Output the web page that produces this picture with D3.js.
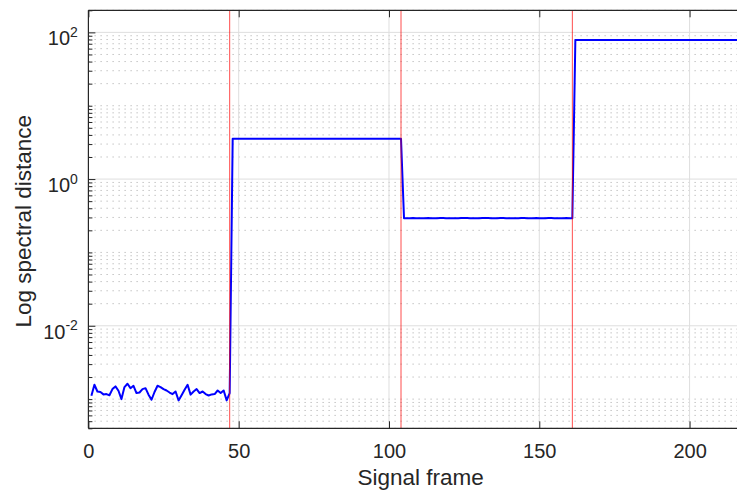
<!DOCTYPE html>
<html>
<head>
<meta charset="utf-8">
<script src="https://cdn.jsdelivr.net/npm/d3@7"></script>
<style>
    body { margin: 0; background: #fff; overflow: hidden; }
    #chart { width: 737px; height: 494px; }
    text { font-family: "Liberation Sans", Arial, sans-serif; fill: #262626; }
</style>
</head>
<body>
<div id="chart"></div>
<script>
// tick values / labels
const xTicks = [0, 50, 100, 150, 200];
const yTicks = [1e-2, 1, 1e2];
const yTickExponents = ['-2', '0', '2'];
const changeFrames = [47, 104, 161];

// log spectral distance per frame
// frames 1-47 (noise floor)
const quietSegment = [
    0.00111, 0.00157, 0.00127, 0.00125, 0.00116, 0.00117, 0.00113, 0.00137, 0.00149, 0.00130,
    0.00100, 0.00146, 0.00162, 0.00141, 0.00152, 0.00121, 0.00123, 0.00137, 0.00141, 0.00115,
    0.00098, 0.00125, 0.00152, 0.00146, 0.00137, 0.00131, 0.00123, 0.00117, 0.00127, 0.00096,
    0.00113, 0.00134, 0.00157, 0.00115, 0.00127, 0.00137, 0.00121, 0.00127, 0.00117, 0.00112,
    0.00116, 0.00117, 0.00131, 0.00121, 0.00131, 0.00096, 0.00121
];
// frames 48-104
const segmentA = [
    3.54, 3.55, 3.55, 3.55, 3.55, 3.55, 3.55, 3.55, 3.55, 3.55,
    3.55, 3.55, 3.55, 3.55, 3.55, 3.55, 3.55, 3.55, 3.55, 3.55,
    3.55, 3.55, 3.55, 3.55, 3.55, 3.56, 3.55, 3.55, 3.55, 3.55,
    3.55, 3.55, 3.55, 3.55, 3.55, 3.55, 3.55, 3.55, 3.56, 3.55,
    3.55, 3.55, 3.55, 3.55, 3.55, 3.55, 3.55, 3.55, 3.55, 3.55,
    3.55, 3.55, 3.55, 3.55, 3.55, 3.55, 3.55
];
// frames 105-161
const segmentB = [
    0.293, 0.293, 0.293, 0.294, 0.293, 0.293, 0.293, 0.293, 0.294, 0.293,
    0.293, 0.293, 0.294, 0.294, 0.293, 0.293, 0.293, 0.293, 0.293, 0.294,
    0.295, 0.294, 0.293, 0.293, 0.293, 0.293, 0.294, 0.295, 0.294, 0.293,
    0.293, 0.293, 0.294, 0.294, 0.293, 0.293, 0.293, 0.293, 0.293, 0.294,
    0.294, 0.293, 0.293, 0.293, 0.294, 0.293, 0.293, 0.293, 0.294, 0.294,
    0.293, 0.293, 0.293, 0.293, 0.294, 0.293, 0.293
];
// frames 162-221
const segmentC = [
    78.5, 78.5, 78.5, 78.5, 78.5, 78.5, 78.5, 78.5, 78.5, 78.5,
    78.5, 78.5, 78.5, 78.5, 78.5, 78.5, 78.5, 78.5, 78.5, 78.5,
    78.5, 78.5, 78.5, 78.5, 78.5, 78.5, 78.5, 78.5, 78.5, 78.5,
    78.5, 78.5, 78.5, 78.5, 78.5, 78.5, 78.5, 78.5, 78.5, 78.5,
    78.5, 78.5, 78.5, 78.5, 78.5, 78.5, 78.5, 78.5, 78.5, 78.5,
    78.5, 78.5, 78.5, 78.5, 78.5, 78.5, 78.5, 78.5, 78.5, 78.5
];

class DistanceVis {
    constructor(parentElement) {
        this.parentElement = parentElement;
        this.initData();
        this.initVis();
    }

    initData() {
        let vis = this;
        let values = quietSegment.concat(segmentA, segmentB, segmentC);
        vis.displayData = values.map((v, i) => ({frame: i + 1, value: v}));
    }

    initVis() {
        let vis = this;

        vis.margin = {top: 10.3, left: 88.4};
        vis.width = 664.3;   // runs past the right edge of the window
        vis.height = 418;

        vis.svg = d3.select("#" + vis.parentElement).append("svg")
            .attr("width", 737)
            .attr("height", 494)
            .append('g')
            .attr('transform', `translate(${vis.margin.left}, ${vis.margin.top})`);

        vis.svg.append("clipPath").attr("id", "plotClip")
            .append("rect")
            .attr("width", vis.width)
            .attr("height", vis.height);

        // scales
        vis.x = d3.scaleLinear().domain([0, 221]).range([0, vis.width]);
        vis.y = d3.scaleLog().domain([4e-4, 200]).range([vis.height, 0]);

        let allY = vis.y.ticks();
        let isMajor = v => yTicks.some(t => Math.abs(Math.log10(t) - Math.log10(v)) < 1e-6);
        vis.minorY = allY.filter(v => !isMajor(v));

        // grid
        let grid = vis.svg.append("g").attr("class", "grid");
        grid.selectAll(".minor-grid")
            .data(vis.minorY)
            .enter().append("line")
            .attr("class", "minor-grid")
            .attr("x1", 0).attr("x2", vis.width)
            .attr("y1", d => vis.y(d)).attr("y2", d => vis.y(d))
            .attr("stroke", "#c4c4c4")
            .attr("stroke-width", 1)
            .attr("stroke-dasharray", "1.5,4.5");

        grid.selectAll(".ygrid")
            .data(yTicks)
            .enter().append("line")
            .attr("class", "ygrid")
            .attr("x1", 0).attr("x2", vis.width)
            .attr("y1", d => vis.y(d)).attr("y2", d => vis.y(d))
            .attr("stroke", "#dedede")
            .attr("stroke-width", 1);

        grid.selectAll(".xgrid")
            .data(xTicks.filter(d => d > 0))
            .enter().append("line")
            .attr("class", "xgrid")
            .attr("x1", d => vis.x(d)).attr("x2", d => vis.x(d))
            .attr("y1", 0).attr("y2", vis.height)
            .attr("stroke", "#dedede")
            .attr("stroke-width", 1);

        this.updateVis();
    }

    updateVis() {
        let vis = this;

        // data line
        let line = d3.line()
            .x(d => vis.x(d.frame))
            .y(d => vis.y(d.value));

        vis.svg.append("path")
            .datum(vis.displayData)
            .attr("clip-path", "url(#plotClip)")
            .attr("d", line)
            .attr("fill", "none")
            .attr("stroke", "#0000ff")
            .attr("stroke-width", 2)
            .attr("stroke-linejoin", "round");

        // change points
        vis.svg.selectAll(".xline")
            .data(changeFrames)
            .enter().append("line")
            .attr("class", "xline")
            .attr("x1", d => vis.x(d)).attr("x2", d => vis.x(d))
            .attr("y1", 0).attr("y2", vis.height)
            .attr("stroke", "#ff0000")
            .attr("stroke-opacity", 0.7)
            .attr("stroke-width", 1);

        // axes (ticks point inward like matlab)
        let xAxis = d3.axisBottom(vis.x).tickValues(xTicks).tickSize(-7).tickPadding(16);
        let xTop = d3.axisTop(vis.x).tickValues(xTicks).tickSize(-7).tickFormat("");
        let yMinor = d3.axisLeft(vis.y).tickValues(vis.minorY).tickSize(-4).tickFormat("");
        let yMajor = d3.axisLeft(vis.y).tickValues(yTicks).tickSize(-7).tickFormat("");

        let styleAxis = g => {
            g.select(".domain").remove();
            g.selectAll("line").attr("stroke", "#262626");
        };

        vis.svg.append("g")
            .attr("class", "x-axis axis")
            .attr("transform", `translate(0, ${vis.height})`)
            .call(xAxis)
            .call(styleAxis)
            .selectAll("text")
            .attr("font-size", "20px")
            .attr("fill", "#262626")
            .style("font-family", "'Liberation Sans', Arial, sans-serif");

        vis.svg.append("g").attr("class", "x-top axis").call(xTop).call(styleAxis);
        vis.svg.append("g").attr("class", "y-minor axis").call(yMinor).call(styleAxis);
        vis.svg.append("g").attr("class", "y-axis axis").call(yMajor).call(styleAxis);

        // y tick labels with superscript
        let labels = vis.svg.append("g").attr("class", "y-labels");
        yTicks.forEach((t, i) => {
            let txt = labels.append("text")
                .attr("x", -10.5)
                .attr("y", vis.y(t) + 13)
                .attr("text-anchor", "end")
                .attr("font-size", "20px");
            txt.append("tspan").text("10");
            txt.append("tspan")
                .attr("dy", -8.5)
                .attr("font-size", "14px")
                .text(yTickExponents[i]);
        });

        // box lines
        vis.svg.append("line")
            .attr("x1", 0).attr("x2", vis.width)
            .attr("y1", vis.height).attr("y2", vis.height)
            .attr("stroke", "#262626").attr("stroke-width", 1.2);
        vis.svg.append("line")
            .attr("x1", 0).attr("x2", vis.width)
            .attr("y1", 0).attr("y2", 0)
            .attr("stroke", "#262626").attr("stroke-width", 1.2);
        vis.svg.append("line")
            .attr("x1", 0).attr("x2", 0)
            .attr("y1", 0).attr("y2", vis.height)
            .attr("stroke", "#262626").attr("stroke-width", 1.2);

        // axis titles
        vis.svg.append("text")
            .attr("x", vis.width / 2)
            .attr("y", vis.height + 56.5)
            .attr("text-anchor", "middle")
            .attr("font-size", "22.5px")
            .text("Signal frame");

        vis.svg.append("text")
            .attr("transform", `translate(${31 - vis.margin.left}, ${vis.height / 2 + 2}) rotate(-90)`)
            .attr("text-anchor", "middle")
            .attr("font-size", "22.5px")
            .text("Log spectral distance");
    }
}

let distanceVis = new DistanceVis("chart");
</script>
</body>
</html>
